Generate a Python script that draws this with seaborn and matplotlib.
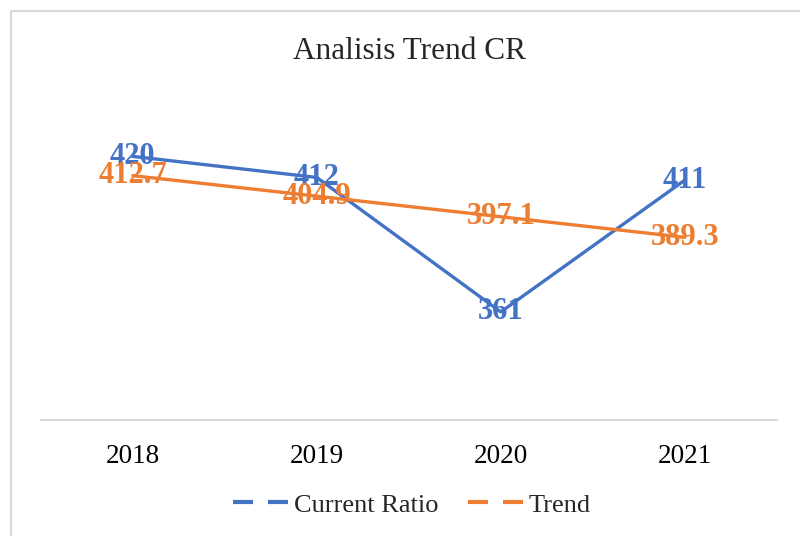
import numpy as np
import pandas as pd
import matplotlib
matplotlib.use("Agg")
import matplotlib.pyplot as plt
from matplotlib.lines import Line2D
import seaborn as sns

# values
years = ["2018", "2019", "2020", "2021"]
current_ratio = [420, 412, 361, 411]
trend = [412.7, 404.9, 397.1, 389.3]
series_names = ["Current Ratio", "Trend"]
colors = ["#4472C4", "#ED7D31"]

sns.set_style("white")
plt.rcParams['font.family'] = ['Liberation Serif', 'DejaVu Serif']

df = pd.DataFrame({"Year": years, "Current Ratio": current_ratio, "Trend": trend})
long_df = df.melt(id_vars="Year", var_name="Series", value_name="Value")

fig = plt.figure(figsize=(8, 5.36), dpi=100)
ax = fig.add_axes([0.051, 0.2164, 0.92, 0.541])

sns.lineplot(data=long_df, x="Year", y="Value", hue="Series", hue_order=series_names,
             palette=colors, linewidth=2.4, sort=False, legend=False, ax=ax)

# data labels centred on the points
for name, color, vals in zip(series_names, colors, [current_ratio, trend]):
    for i, v in enumerate(vals):
        ax.text(i, v, f"{v:g}", color=color, fontsize=22, fontweight="bold",
                family="Liberation Serif", ha="center", va="center", zorder=5)

ax.set_xlim(-0.5, 3.5)
ax.set_ylim(320, 430)
ax.set_xlabel("")
ax.set_ylabel("")
ax.set_yticks([])
ax.tick_params(axis="x", length=0, pad=17, labelsize=19.5, labelcolor="black")
for side in ["top", "left", "right"]:
    ax.spines[side].set_visible(False)
ax.spines["bottom"].set_color("#D9D9D9")
ax.spines["bottom"].set_linewidth(1.5)

fig.text(0.512, 0.903, "Analisis Trend CR", ha="center", va="center", fontsize=22.5)

handles = [Line2D([], [], color=c, linewidth=3, linestyle=(0, (4.8, 3.6))) for c in colors]
fig.legend(handles, series_names, loc="center", bbox_to_anchor=(0.515, 0.058), ncol=2,
           frameon=False, fontsize=19, handlelength=2.1, handletextpad=0.2, columnspacing=1.1)

# chart border (only top and left visible in the crop)
fig.add_artist(Line2D([11 / 800, 11 / 800], [0, 1 - 11 / 536], transform=fig.transFigure,
                      color="#D9D9D9", linewidth=1.5))
fig.add_artist(Line2D([11 / 800, 1], [1 - 11 / 536, 1 - 11 / 536], transform=fig.transFigure,
                      color="#D9D9D9", linewidth=1.5))

fig.savefig("out.png", dpi=100)
